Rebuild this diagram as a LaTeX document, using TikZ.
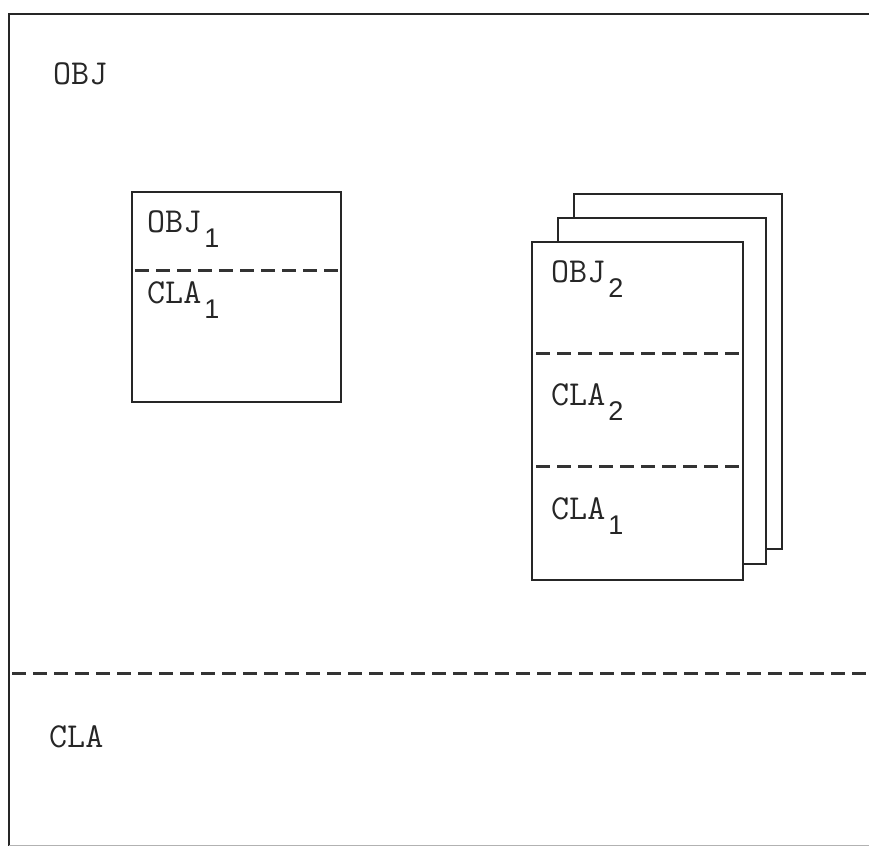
\documentclass[tikz,border=0pt]{standalone}
\usepackage{fontspec}
\newfontfamily\subfont{Liberation Sans}
\newcommand{\lbl}[2]{#1\hspace{3pt}\raisebox{-15pt}{\subfont\fontsize{27}{30}\selectfont #2}}
\begin{document}
\begin{tikzpicture}[x=1pt,y=-1pt,
  frame/.style={line width=2.2pt,draw=black!85},
  sheet/.style={line width=2.2pt,draw=black!85,fill=white},
  divider/.style={line width=3pt,draw=black!80,dash pattern=on 14pt off 7pt},
  txt/.style={anchor=base west,inner sep=0pt,font=\ttfamily\fontsize{35}{38}\selectfont,text=black!85}]
\useasboundingbox (0,0) rectangle (869,846);
% outer frame
\draw[frame] (870,14) -- (9,14) -- (9,846);
\draw[line width=1pt,draw=black!30] (9,845) -- (869,845);
\draw[divider] (12,673) -- (869,673);
\node[txt] (obj) at (53,84) {OBJ};
\node[txt] (cla) at (49,747) {CLA};
% box 1
\draw[sheet] (132,192) rectangle (341,402);
\draw[divider] (135,270) -- (339,270);
\node[txt] (obj1) at (147,232) {\lbl{OBJ}{1}};
\node[txt] (cla1a) at (147,303) {\lbl{CLA}{1}};
% stacked sheets
\draw[sheet] (574,194) rectangle (782,549);
\draw[sheet] (558,218) rectangle (766,564);
\draw[sheet] (532,242) rectangle (743,580);
\draw[divider] (536,353) -- (741,353);
\draw[divider] (536,466) -- (741,466);
\node[txt] (obj2) at (551,282) {\lbl{OBJ}{2}};
\node[txt] (cla2) at (551,405) {\lbl{CLA}{2}};
\node[txt] (cla1b) at (551,519) {\lbl{CLA}{1}};
\end{tikzpicture}
\end{document}
